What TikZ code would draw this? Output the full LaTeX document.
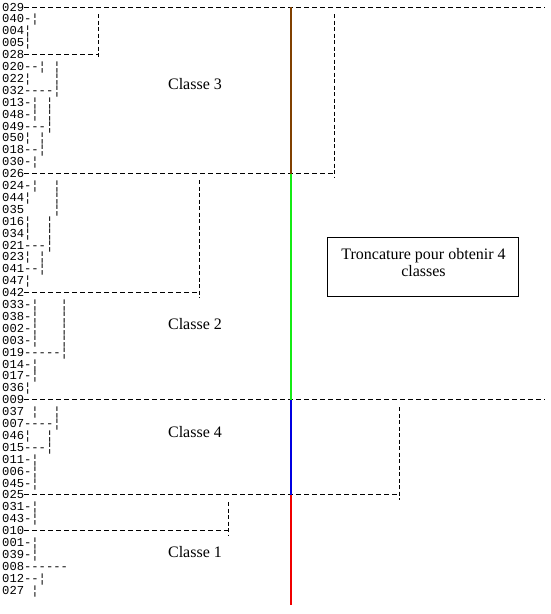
\documentclass[tikz,border=0pt]{standalone}
\usepackage{fontspec}
\setmainfont{Liberation Serif}
\newfontfamily\rowfont{Liberation Mono}
\usepackage{tikz}
\usetikzlibrary{positioning}
\definecolor{cutbrown}{RGB}{128,64,0}
\definecolor{cutgreen}{RGB}{20,235,20}
\definecolor{cutblue}{RGB}{0,0,225}
\definecolor{cutred}{RGB}{240,0,0}
\newcommand{\colgap}{\phantom{0}}
\tikzset{
    rowtext/.style = {anchor=west, inner sep=0pt, text height=8pt, text depth=0pt, font=\rowfont\fontsize{12.17}{12}\selectfont},
    treeline/.style = {line width=0.9pt, dash pattern=on 5pt off 3pt},
    treedrop/.style = {line width=0.9pt, dash pattern=on 4pt off 2.5pt},
    classlabel/.style = {anchor=base, inner sep=0pt, font=\fontsize{16}{18}\selectfont},
    notebox/.style = {rectangle, draw, line width=0.9pt, minimum width=191pt, minimum height=59pt, inner sep=0pt},
    notetext/.style = {align=center, inner sep=0pt, font=\fontsize{16}{17}\selectfont},
    cut/.style = {line width=2pt}
}

\begin{document}
\begin{tikzpicture}[x=1pt, y=-1pt]
    \useasboundingbox (0,0) rectangle (551,614);
    \fill[white] (0,0) rectangle (551,614);

    % Rows
    \foreach \lbl/\tail [count=\i from 0] in {029/, 040/-¦, 004/¦, 005/¦, 028/,
        020/--¦\colgap¦, 022/¦\colgap\colgap\colgap¦, 032/----¦, 013/-¦\colgap¦, 048/-¦\colgap¦,
        049/---¦, 050/¦\colgap¦, 018/--¦, 030/-¦, 026/,
        024/-¦\colgap\colgap¦, 044/¦\colgap\colgap\colgap¦, 035/\colgap\colgap\colgap\colgap¦, 016/¦\colgap\colgap¦, 034/¦\colgap\colgap¦,
        021/---¦, 023/¦\colgap¦, 041/--¦, 047/¦, 042/,
        033/-¦\colgap\colgap\colgap¦, 038/-¦\colgap\colgap\colgap¦, 002/-¦\colgap\colgap\colgap¦, 003/-¦\colgap\colgap\colgap¦, 019/-----¦,
        014/-¦, 017/-¦, 036/¦, 009/, 037/\colgap¦\colgap\colgap¦,
        007/----¦, 046/¦\colgap\colgap¦, 015/---¦, 011/-¦, 006/-¦,
        045/-¦, 025/, 031/-¦, 043/-¦, 010/,
        001/-¦, 039/-¦, 008/------, 012/--¦, 027/\colgap¦}
        \node [rowtext] (r\lbl) at (2,{7+11.9*\i}) {\lbl\tail};

    % Joins
    \coordinate (edge) at (545,0);
    \coordinate (v028t) at (98,14);   \coordinate (v028b) at (98,58);
    \coordinate (v026t) at (334,14);  \coordinate (v026b) at (334,178);
    \coordinate (v042t) at (199,180); \coordinate (v042b) at (199,298);
    \coordinate (v025t) at (399,407); \coordinate (v025b) at (399,500);
    \coordinate (v010t) at (228,502); \coordinate (v010b) at (228,536);

    \draw [treeline] (r029.east) -- (r029.east -| edge);
    \draw [treeline] (r028.east) -- (r028.east -| v028t);
    \draw [treeline] (r026.east) -- (r026.east -| v026t);
    \draw [treeline] (r042.east) -- (r042.east -| v042t);
    \draw [treeline] (r009.east) -- (r009.east -| edge);
    \draw [treeline] (r025.east) -- (r025.east -| v025t);
    \draw [treeline] (r010.east) -- (r010.east -| v010t);

    \foreach \j in {028, 026, 042, 025, 010}
        \draw [treedrop] (v\j t) -- (v\j b);

    % Cut line
    \coordinate (spine) at (291,0);
    \coordinate (spineEnd) at (291,605);
    \draw [cut, cutbrown] (r029 -| spine) -- (r026 -| spine);
    \draw [cut, cutgreen] (r026 -| spine) -- (r009 -| spine);
    \draw [cut, cutblue] (r009 -| spine) -- (r025 -| spine);
    \draw [cut, cutred] (r025 -| spine) -- (spineEnd);

    % Classes
    \node [classlabel] (classe3) at (195,89) {Classe 3};
    \node [classlabel] (classe2) at (195,329) {Classe 2};
    \node [classlabel] (classe4) at (195,437) {Classe 4};
    \node [classlabel] (classe1) at (195,557) {Classe 1};

    % Note
    \node [notebox] (note) at (422.5,266.5) {};
    \node [notetext] (notelabel) at (423.5,262.5) {Troncature pour obtenir 4\\classes};
\end{tikzpicture}
\end{document}
